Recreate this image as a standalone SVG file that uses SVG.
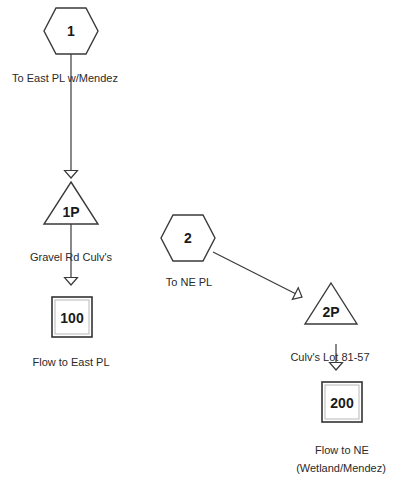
<svg xmlns="http://www.w3.org/2000/svg" width="396" height="477" viewBox="0 0 396 477">
<style>
.shape{fill:#fff;stroke:#3a3a3a;stroke-width:1.4}
.box{fill:#fff;stroke:#333;stroke-width:1.6}
.inner{fill:none;stroke:#b8b8b8;stroke-width:1}
.id{font-family:"Liberation Sans",Arial,sans-serif;font-weight:bold;font-size:14px;fill:#1a1a1a;text-anchor:middle}
.lbl{font-family:"Liberation Sans",Arial,sans-serif;font-size:11px;fill:#2a2a2a;text-anchor:middle}
.conn{stroke:#3a3a3a;stroke-width:1.2;fill:none}
</style>
<defs>
<marker id="arr" markerUnits="userSpaceOnUse" markerWidth="10" markerHeight="16" viewBox="0 0 10 16" refX="8.5" refY="8" orient="auto">
<path d="M1,1.5 L8.5,8 L1,14.5 Z" fill="#fff" stroke="#3a3a3a" stroke-width="1.2"/>
</marker>
</defs>
<rect width="396" height="477" fill="#fff"/>
<g id="node-1">
<polygon class="shape" points="44,31 56,8 86,8 98,31 86,54 56,54"/>
<text class="id" x="71" y="36">1</text>
<text class="lbl" x="65" y="82">To East PL w/Mendez</text>
</g>
<g id="node-1P">
<polygon class="shape" points="71,182 98,224 44,224"/>
<text class="id" x="71" y="217">1P</text>
<text class="lbl" x="71" y="261">Gravel Rd Culv's</text>
</g>
<g id="node-100">
<rect class="box" x="52" y="297" width="40" height="40"/>
<rect class="inner" x="55" y="300" width="34" height="34"/>
<text class="id" x="72" y="323">100</text>
<text class="lbl" x="71" y="366">Flow to East PL</text>
</g>
<g id="node-2">
<polygon class="shape" points="161,238 173,215 203,215 215,238 203,261 173,261"/>
<text class="id" x="188" y="243">2</text>
<text class="lbl" x="189" y="286">To NE PL</text>
</g>
<g id="node-2P">
<polygon class="shape" points="331,283 357,324 305,324"/>
<text class="id" x="331" y="317">2P</text>
<text class="lbl" x="330" y="361">Culv's Lot 81-57</text>
</g>
<g id="node-200">
<rect class="box" x="322" y="382" width="40" height="40"/>
<rect class="inner" x="325" y="385" width="34" height="34"/>
<text class="id" x="342" y="408">200</text>
<text class="lbl" x="342" y="454">Flow to NE</text>
<text class="lbl" x="341" y="472">(Wetland/Mendez)</text>
</g>
<g id="connectors">
<line class="conn" x1="71" y1="54" x2="71" y2="178" marker-end="url(#arr)"/>
<line class="conn" x1="71" y1="224" x2="71" y2="285" marker-end="url(#arr)"/>
<line class="conn" x1="213" y1="252" x2="302" y2="297" marker-end="url(#arr)"/>
<line class="conn" x1="336" y1="344" x2="336" y2="370" marker-end="url(#arr)"/>
</g>
</svg>
